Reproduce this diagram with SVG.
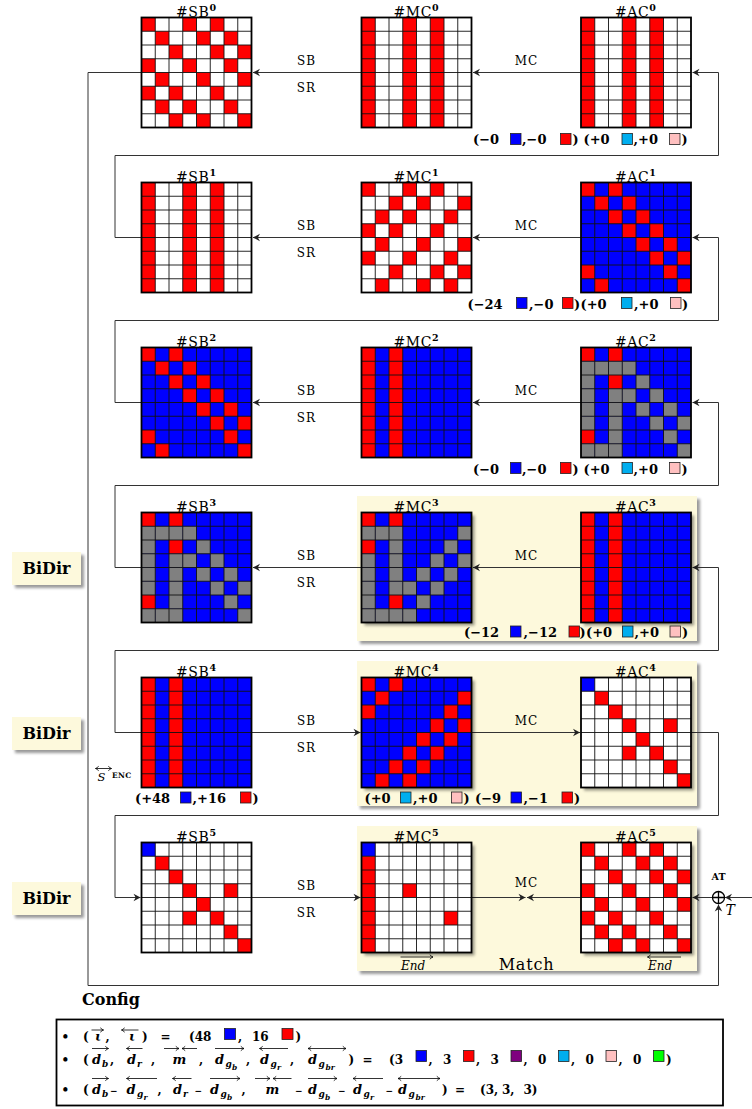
<svg xmlns="http://www.w3.org/2000/svg" width="752" height="1109" viewBox="0 0 752 1109">
<style>
.f{font-family:"DejaVu Serif","Liberation Serif",serif;fill:#000}
.ttl{font-size:14px;letter-spacing:.6px}
.sup{font-size:9.5px;font-weight:bold;letter-spacing:0}
.op{font-size:12px;letter-spacing:1px}
.lb{font-size:13px;font-weight:bold}
.lg{font-size:12px;font-weight:bold}
.mi{font-style:italic;font-weight:bold;font-size:13px}
.s1{font-size:9px;font-style:italic;font-weight:bold}
.s2{font-size:7.5px;font-style:italic;font-weight:bold}
.mn{font-size:9px;font-weight:bold}
.cn{fill:none;stroke:#333;stroke-width:1}
.sq{stroke:#222;stroke-width:.8}
.grid{fill:none;stroke:#111;stroke-width:.9}
.bd{fill:none;stroke:#000;stroke-width:1.8}
.hl{fill:#fdf9dc}
.shd{fill:#000;opacity:.4;filter:url(#sh)}
.acc{fill:none;stroke:#000;stroke-width:.8}
.R{fill:#ff0000}.B{fill:#0000ff}.C{fill:#00aeef}.P{fill:#ffc0c0}.U{fill:#7f007f}.N{fill:#00ff00}
</style>
<defs>
<filter id="sh" x="-20%" y="-20%" width="140%" height="140%"><feGaussianBlur stdDeviation="1.8"/></filter>
<marker id="ah" viewBox="-8 -5 10 10" refX="0" refY="0" markerWidth="10" markerHeight="10" markerUnits="userSpaceOnUse" orient="auto" overflow="visible"><path d="M0,0 L-7,-3.8 L-4.8,0 L-7,3.8 Z" fill="#222"/></marker>
<marker id="sa" viewBox="-4 -3 5 6" refX="0" refY="0" markerWidth="5" markerHeight="6" markerUnits="userSpaceOnUse" orient="auto-start-reverse" overflow="visible"><path d="M-3.2,-2.2 Q-1.2,-0.4 0,0 Q-1.2,0.4 -3.2,2.2" fill="none" stroke="#000" stroke-width=".8"/></marker>
<rect id="c" width="13.75" height="13.75"/>
<g id="L"><path class="grid" d="M13.75 0V110M27.5 0V110M41.25 0V110M55 0V110M68.75 0V110M82.5 0V110M96.25 0V110M0 13.75H110M0 27.5H110M0 41.25H110M0 55H110M0 68.75H110M0 82.5H110M0 96.25H110"/><rect class="bd" width="110" height="110"/></g>
<g id="pA"><rect width="110" height="110" fill="#fff"/><g fill="#f00">
<use href="#c" x="0" y="0"/><use href="#c" x="41.25" y="0"/><use href="#c" x="68.75" y="0"/>
<use href="#c" x="13.75" y="13.75"/><use href="#c" x="55" y="13.75"/><use href="#c" x="82.5" y="13.75"/>
<use href="#c" x="27.5" y="27.5"/><use href="#c" x="68.75" y="27.5"/><use href="#c" x="96.25" y="27.5"/>
<use href="#c" x="0" y="41.25"/><use href="#c" x="41.25" y="41.25"/><use href="#c" x="82.5" y="41.25"/>
<use href="#c" x="13.75" y="55"/><use href="#c" x="55" y="55"/><use href="#c" x="96.25" y="55"/>
<use href="#c" x="0" y="68.75"/><use href="#c" x="27.5" y="68.75"/><use href="#c" x="68.75" y="68.75"/>
<use href="#c" x="13.75" y="82.5"/><use href="#c" x="41.25" y="82.5"/><use href="#c" x="82.5" y="82.5"/>
<use href="#c" x="27.5" y="96.25"/><use href="#c" x="55" y="96.25"/><use href="#c" x="96.25" y="96.25"/>
</g><use href="#L"/></g>
<g id="pB"><rect width="110" height="110" fill="#fff"/><g fill="#f00"><rect x="0" width="13.75" height="110"/><rect x="41.25" width="13.75" height="110"/><rect x="68.75" width="13.75" height="110"/></g><use href="#L"/></g>
<g id="pC"><rect width="110" height="110" fill="#fff"/><g fill="#f00">
<use href="#c" x="0" y="0"/><use href="#c" x="41.25" y="0"/><use href="#c" x="68.75" y="0"/>
<use href="#c" x="27.5" y="13.75"/><use href="#c" x="55" y="13.75"/><use href="#c" x="96.25" y="13.75"/>
<use href="#c" x="13.75" y="27.5"/><use href="#c" x="41.25" y="27.5"/><use href="#c" x="82.5" y="27.5"/>
<use href="#c" x="0" y="41.25"/><use href="#c" x="27.5" y="41.25"/><use href="#c" x="68.75" y="41.25"/>
<use href="#c" x="13.75" y="55"/><use href="#c" x="55" y="55"/><use href="#c" x="96.25" y="55"/>
<use href="#c" x="0" y="68.75"/><use href="#c" x="41.25" y="68.75"/><use href="#c" x="82.5" y="68.75"/>
<use href="#c" x="27.5" y="82.5"/><use href="#c" x="68.75" y="82.5"/><use href="#c" x="96.25" y="82.5"/>
<use href="#c" x="13.75" y="96.25"/><use href="#c" x="55" y="96.25"/><use href="#c" x="82.5" y="96.25"/>
</g><use href="#L"/></g>
<g id="pD"><rect width="110" height="110" fill="#00f"/><g fill="#f00">
<use href="#c" x="0" y="0"/><use href="#c" x="27.5" y="0"/>
<use href="#c" x="13.75" y="13.75"/><use href="#c" x="41.25" y="13.75"/>
<use href="#c" x="27.5" y="27.5"/><use href="#c" x="55" y="27.5"/>
<use href="#c" x="41.25" y="41.25"/><use href="#c" x="68.75" y="41.25"/>
<use href="#c" x="55" y="55"/><use href="#c" x="82.5" y="55"/>
<use href="#c" x="68.75" y="68.75"/><use href="#c" x="96.25" y="68.75"/>
<use href="#c" x="0" y="82.5"/><use href="#c" x="82.5" y="82.5"/>
<use href="#c" x="13.75" y="96.25"/><use href="#c" x="96.25" y="96.25"/>
</g><use href="#L"/></g>
<g id="pE"><rect width="110" height="110" fill="#00f"/><g fill="#f00"><rect x="0" width="13.75" height="110"/><rect x="27.5" width="13.75" height="110"/></g><use href="#L"/></g>
<g id="pF"><rect width="110" height="110" fill="#00f"/>
<g fill="#f00"><use href="#c" x="0" y="0"/><use href="#c" x="27.5" y="0"/><use href="#c" x="27.5" y="27.5"/><use href="#c" x="0" y="82.5"/></g>
<g fill="#808080">
<use href="#c" x="0" y="13.75"/><use href="#c" x="13.75" y="13.75"/><use href="#c" x="27.5" y="13.75"/><use href="#c" x="41.25" y="13.75"/>
<use href="#c" x="0" y="27.5"/><use href="#c" x="55" y="27.5"/>
<use href="#c" x="0" y="41.25"/><use href="#c" x="27.5" y="41.25"/><use href="#c" x="41.25" y="41.25"/><use href="#c" x="68.75" y="41.25"/>
<use href="#c" x="0" y="55"/><use href="#c" x="27.5" y="55"/><use href="#c" x="55" y="55"/><use href="#c" x="82.5" y="55"/>
<use href="#c" x="0" y="68.75"/><use href="#c" x="27.5" y="68.75"/><use href="#c" x="68.75" y="68.75"/><use href="#c" x="96.25" y="68.75"/>
<use href="#c" x="27.5" y="82.5"/><use href="#c" x="82.5" y="82.5"/>
<use href="#c" x="0" y="96.25"/><use href="#c" x="13.75" y="96.25"/><use href="#c" x="27.5" y="96.25"/><use href="#c" x="96.25" y="96.25"/>
</g><use href="#L"/></g>
<g id="pG"><rect width="110" height="110" fill="#00f"/>
<g fill="#f00"><use href="#c" x="0" y="0"/><use href="#c" x="27.5" y="0"/><use href="#c" x="0" y="27.5"/><use href="#c" x="27.5" y="82.5"/></g>
<g fill="#808080">
<use href="#c" x="0" y="13.75"/><use href="#c" x="13.75" y="13.75"/><use href="#c" x="27.5" y="13.75"/><use href="#c" x="96.25" y="13.75"/>
<use href="#c" x="27.5" y="27.5"/><use href="#c" x="82.5" y="27.5"/>
<use href="#c" x="0" y="41.25"/><use href="#c" x="27.5" y="41.25"/><use href="#c" x="68.75" y="41.25"/><use href="#c" x="96.25" y="41.25"/>
<use href="#c" x="0" y="55"/><use href="#c" x="27.5" y="55"/><use href="#c" x="55" y="55"/><use href="#c" x="82.5" y="55"/>
<use href="#c" x="0" y="68.75"/><use href="#c" x="27.5" y="68.75"/><use href="#c" x="41.25" y="68.75"/><use href="#c" x="68.75" y="68.75"/>
<use href="#c" x="0" y="82.5"/><use href="#c" x="55" y="82.5"/>
<use href="#c" x="0" y="96.25"/><use href="#c" x="13.75" y="96.25"/><use href="#c" x="27.5" y="96.25"/><use href="#c" x="41.25" y="96.25"/>
</g><use href="#L"/></g>
<g id="pH"><rect width="110" height="110" fill="#00f"/><g fill="#f00">
<use href="#c" x="0" y="0"/><use href="#c" x="27.5" y="0"/>
<use href="#c" x="13.75" y="13.75"/><use href="#c" x="96.25" y="13.75"/>
<use href="#c" x="0" y="27.5"/><use href="#c" x="82.5" y="27.5"/>
<use href="#c" x="68.75" y="41.25"/><use href="#c" x="96.25" y="41.25"/>
<use href="#c" x="55" y="55"/><use href="#c" x="82.5" y="55"/>
<use href="#c" x="41.25" y="68.75"/><use href="#c" x="68.75" y="68.75"/>
<use href="#c" x="27.5" y="82.5"/><use href="#c" x="55" y="82.5"/>
<use href="#c" x="13.75" y="96.25"/><use href="#c" x="41.25" y="96.25"/>
</g><use href="#L"/></g>
<g id="pI"><rect width="110" height="110" fill="#fff"/><use href="#c" x="0" y="0" fill="#00f"/><g fill="#f00">
<use href="#c" x="13.75" y="13.75"/><use href="#c" x="27.5" y="27.5"/><use href="#c" x="41.25" y="41.25"/><use href="#c" x="82.5" y="41.25"/>
<use href="#c" x="55" y="55"/><use href="#c" x="41.25" y="68.75"/><use href="#c" x="68.75" y="68.75"/><use href="#c" x="82.5" y="82.5"/><use href="#c" x="96.25" y="96.25"/>
</g><use href="#L"/></g>
<g id="pJ"><rect width="110" height="110" fill="#fff"/><use href="#c" x="0" y="0" fill="#00f"/><g fill="#f00">
<rect x="0" y="13.75" width="13.75" height="96.25"/><use href="#c" x="41.25" y="41.25"/><use href="#c" x="82.5" y="68.75"/>
</g><use href="#L"/></g>
</defs>

<rect width="752" height="1109" fill="#fff"/>

<!-- highlight regions -->
<g id="highlights">
<rect class="shd" x="360" y="499" width="340" height="145"/>
<rect class="hl" x="357" y="496" width="340" height="145"/>
<rect class="shd" x="360" y="664" width="340" height="145"/>
<rect class="hl" x="357" y="661" width="340" height="145"/>
<rect class="shd" x="360" y="829" width="340" height="145"/>
<rect class="hl" x="357" y="826" width="340" height="145"/>
</g>

<!-- connectors -->
<g id="connectors">
<path class="cn" d="M361.5 72.5H253" marker-end="url(#ah)"/>
<path class="cn" d="M581 72.5H473" marker-end="url(#ah)"/>
<path class="cn" d="M141.5 237.5H115V155.5H718.5V72.5H692.5" marker-end="url(#ah)"/>
<path class="cn" d="M361.5 237.5H253" marker-end="url(#ah)"/>
<path class="cn" d="M581 237.5H473" marker-end="url(#ah)"/>
<path class="cn" d="M141.5 402.5H115V320.5H718.5V237.5H692.5" marker-end="url(#ah)"/>
<path class="cn" d="M361.5 402.5H253" marker-end="url(#ah)"/>
<path class="cn" d="M581 402.5H473" marker-end="url(#ah)"/>
<path class="cn" d="M141.5 567.5H115V485.5H718.5V402.5H692.5" marker-end="url(#ah)"/>
<path class="cn" d="M361.5 567.5H253" marker-end="url(#ah)"/>
<path class="cn" d="M581 567.5H473" marker-end="url(#ah)"/>
<path class="cn" d="M141.5 732.5H115V650.5H718.5V567.5H692.5" marker-end="url(#ah)"/>
<path class="cn" d="M251.5 732.5H360.5" marker-end="url(#ah)"/>
<path class="cn" d="M471.5 732.5H580" marker-end="url(#ah)"/>
<path class="cn" d="M691 732.5H718.5V815.5H115V897.5H140.5" marker-end="url(#ah)"/>
<path class="cn" d="M251.5 897.5H360.5" marker-end="url(#ah)"/>
<path class="cn" d="M471.5 897.5H525.5" marker-end="url(#ah)"/>
<path class="cn" d="M581 897.5H527" marker-end="url(#ah)"/>
<path class="cn" d="M712.5 897.5H692.5" marker-end="url(#ah)"/>
<path class="cn" d="M752 897.5H725" marker-end="url(#ah)"/>
<path class="cn" d="M141.5 72.5H88V985.5H718.5V904.5" marker-end="url(#ah)"/>
</g>

<!-- XOR node -->
<g id="XOR">
<circle cx="718.5" cy="897.5" r="6" fill="#fff" stroke="#000" stroke-width="1.3"/>
<path d="M712.5 897.5H724.5M718.5 891.5V903.5" stroke="#000" stroke-width="1.3"/>
<text class="f" x="718.5" y="879.5" font-size="9.5" font-weight="bold" text-anchor="middle">AT</text>
<text class="f" x="725.5" y="915" font-size="14" font-style="italic">T</text>
</g>

<!-- operation labels -->
<g id="oplabels" class="f op" text-anchor="middle">
<text x="306.5" y="64.5">SB</text><text x="306.5" y="91.5">SR</text><text x="526.5" y="64.5">MC</text>
<text x="306.5" y="229.5">SB</text><text x="306.5" y="256.5">SR</text><text x="526.5" y="229.5">MC</text>
<text x="306.5" y="394.5">SB</text><text x="306.5" y="421.5">SR</text><text x="526.5" y="394.5">MC</text>
<text x="306.5" y="559.5">SB</text><text x="306.5" y="586.5">SR</text><text x="526.5" y="559.5">MC</text>
<text x="306.5" y="724.5">SB</text><text x="306.5" y="751.5">SR</text><text x="526.5" y="724.5">MC</text>
<text x="306.5" y="889.5">SB</text><text x="306.5" y="916.5">SR</text><text x="526.5" y="886.5">MC</text>
</g>

<!-- state nodes -->
<g id="SB0"><use href="#pA" x="141.5" y="17.5"/><text class="f ttl" x="196" y="16.5" text-anchor="middle">#SB<tspan class="sup" dy="-6">0</tspan></text></g>
<g id="MC0"><use href="#pB" x="361.5" y="17.5"/><text class="f ttl" x="416" y="16.5" text-anchor="middle">#MC<tspan class="sup" dy="-6">0</tspan></text></g>
<g id="AC0"><use href="#pB" x="581" y="17.5"/><text class="f ttl" x="635.5" y="16.5" text-anchor="middle">#AC<tspan class="sup" dy="-6">0</tspan></text></g>

<g id="SB1"><use href="#pB" x="141.5" y="182.5"/><text class="f ttl" x="196" y="181.5" text-anchor="middle">#SB<tspan class="sup" dy="-6">1</tspan></text></g>
<g id="MC1"><use href="#pC" x="361.5" y="182.5"/><text class="f ttl" x="416" y="181.5" text-anchor="middle">#MC<tspan class="sup" dy="-6">1</tspan></text></g>
<g id="AC1"><use href="#pD" x="581" y="182.5"/><text class="f ttl" x="635.5" y="181.5" text-anchor="middle">#AC<tspan class="sup" dy="-6">1</tspan></text></g>

<g id="SB2"><use href="#pD" x="141.5" y="347.5"/><text class="f ttl" x="196" y="346.5" text-anchor="middle">#SB<tspan class="sup" dy="-6">2</tspan></text></g>
<g id="MC2"><use href="#pE" x="361.5" y="347.5"/><text class="f ttl" x="416" y="346.5" text-anchor="middle">#MC<tspan class="sup" dy="-6">2</tspan></text></g>
<g id="AC2"><use href="#pF" x="581" y="347.5"/><text class="f ttl" x="635.5" y="346.5" text-anchor="middle">#AC<tspan class="sup" dy="-6">2</tspan></text></g>

<g id="SB3"><use href="#pF" x="141.5" y="512.5"/><text class="f ttl" x="196" y="511.5" text-anchor="middle">#SB<tspan class="sup" dy="-6">3</tspan></text></g>
<g id="MC3"><rect class="shd" x="364.5" y="515.5" width="110" height="110"/><use href="#pG" x="361.5" y="512.5"/><text class="f ttl" x="416" y="511.5" text-anchor="middle">#MC<tspan class="sup" dy="-6">3</tspan></text></g>
<g id="AC3"><rect class="shd" x="584" y="515.5" width="110" height="110"/><use href="#pE" x="581" y="512.5"/><text class="f ttl" x="635.5" y="511.5" text-anchor="middle">#AC<tspan class="sup" dy="-6">3</tspan></text></g>

<g id="SB4"><use href="#pE" x="141.5" y="677.5"/><text class="f ttl" x="196" y="676.5" text-anchor="middle">#SB<tspan class="sup" dy="-6">4</tspan></text></g>
<g id="MC4"><rect class="shd" x="364.5" y="680.5" width="110" height="110"/><use href="#pH" x="361.5" y="677.5"/><text class="f ttl" x="416" y="676.5" text-anchor="middle">#MC<tspan class="sup" dy="-6">4</tspan></text></g>
<g id="AC4"><rect class="shd" x="584" y="680.5" width="110" height="110"/><use href="#pI" x="581" y="677.5"/><text class="f ttl" x="635.5" y="676.5" text-anchor="middle">#AC<tspan class="sup" dy="-6">4</tspan></text></g>

<g id="SB5"><use href="#pI" x="141.5" y="842.5"/><text class="f ttl" x="196" y="841.5" text-anchor="middle">#SB<tspan class="sup" dy="-6">5</tspan></text></g>
<g id="MC5"><rect class="shd" x="364.5" y="845.5" width="110" height="110"/><use href="#pJ" x="361.5" y="842.5"/><text class="f ttl" x="416" y="841.5" text-anchor="middle">#MC<tspan class="sup" dy="-6">5</tspan></text></g>
<g id="AC5"><rect class="shd" x="584" y="845.5" width="110" height="110"/><use href="#pA" x="581" y="842.5"/><text class="f ttl" x="635.5" y="841.5" text-anchor="middle">#AC<tspan class="sup" dy="-6">5</tspan></text></g>

<!-- count labels -->
<g id="counts" class="f lb">
<text x="473" y="144">(−0</text><rect class="sq B" x="510.5" y="133.5" width="10.5" height="11"/><text x="522" y="144">,−0</text><rect class="sq R" x="560.5" y="133.5" width="10.5" height="11"/><text x="572.5" y="144">)</text>
<text x="583.5" y="144">(+0</text><rect class="sq C" x="622" y="133.5" width="10.5" height="11"/><text x="633.5" y="144">,+0</text><rect class="sq P" x="669.5" y="133.5" width="10.5" height="11"/><text x="681.5" y="144">)</text>

<text x="467.5" y="308.5">(−24</text><rect class="sq B" x="516.5" y="297.5" width="10.5" height="11"/><text x="529" y="308.5">,−0</text><rect class="sq R" x="562.5" y="297.5" width="10.5" height="11"/><text x="574" y="308.5">)</text>
<text x="580.5" y="308.5">(+0</text><rect class="sq C" x="621.5" y="297.5" width="10.5" height="11"/><text x="634" y="308.5">,+0</text><rect class="sq P" x="670.5" y="297.5" width="10.5" height="11"/><text x="682" y="308.5">)</text>

<text x="473" y="473.5">(−0</text><rect class="sq B" x="510.5" y="462.5" width="10.5" height="11"/><text x="522" y="473.5">,−0</text><rect class="sq R" x="560.5" y="462.5" width="10.5" height="11"/><text x="572.5" y="473.5">)</text>
<text x="583.5" y="473.5">(+0</text><rect class="sq C" x="622" y="462.5" width="10.5" height="11"/><text x="633.5" y="473.5">,+0</text><rect class="sq P" x="669.5" y="462.5" width="10.5" height="11"/><text x="681.5" y="473.5">)</text>

<text x="464" y="637">(−12</text><rect class="sq B" x="510.5" y="626" width="10.5" height="11"/><text x="523.5" y="637">,−12</text><rect class="sq R" x="569" y="626" width="10.5" height="11"/><text x="579.5" y="637">)</text>
<text x="586" y="637">(+0</text><rect class="sq C" x="622.5" y="626" width="10.5" height="11"/><text x="634.5" y="637">,+0</text><rect class="sq P" x="670" y="626" width="10.5" height="11"/><text x="682" y="637">)</text>

<text x="135" y="803">(+48</text><rect class="sq B" x="180.5" y="792" width="10.5" height="11"/><text x="192.5" y="803">,+16</text><rect class="sq R" x="240.5" y="792" width="10.5" height="11"/><text x="252.5" y="803">)</text>

<text x="364.5" y="803">(+0</text><rect class="sq C" x="400.5" y="792" width="10.5" height="11"/><text x="413" y="803">,+0</text><rect class="sq P" x="451.5" y="792" width="10.5" height="11"/><text x="463.5" y="803">)</text>
<text x="475" y="803">(−9</text><rect class="sq B" x="511" y="792" width="10.5" height="11"/><text x="523.5" y="803">,−1</text><rect class="sq R" x="562" y="792" width="10.5" height="11"/><text x="574" y="803">)</text>
</g>

<!-- start state label -->
<g id="Senc">
<text class="f" x="97.5" y="780.5" font-size="11.5" font-style="italic">S</text>
<path class="acc" d="M95.5 768.5H111.5" marker-start="url(#sa)" marker-end="url(#sa)"/>
<text class="f" x="112" y="777.5" font-size="7.5" font-weight="bold" letter-spacing=".4">ENC</text>
</g>

<!-- match labels -->
<g id="matchlabels">
<text class="f" x="401" y="969.5" font-size="12" font-style="italic">End</text>
<path class="acc" d="M400.5 957H433" marker-end="url(#sa)"/>
<text class="f" x="648" y="969.5" font-size="12" font-style="italic">End</text>
<path class="acc" d="M681 957H647.5" marker-end="url(#sa)"/>
<text class="f" x="526.5" y="970" font-size="16" letter-spacing=".8" text-anchor="middle">Match</text>
</g>

<!-- BiDir tags -->
<g id="BiDir3"><rect class="shd" x="15" y="555" width="69" height="33"/><rect class="hl" x="12" y="552" width="69" height="33"/><text class="f" x="46.5" y="573.5" font-size="16" font-weight="bold" text-anchor="middle">BiDir</text></g>
<g id="BiDir4"><rect class="shd" x="15" y="720" width="69" height="33"/><rect class="hl" x="12" y="717" width="69" height="33"/><text class="f" x="46.5" y="738.5" font-size="16" font-weight="bold" text-anchor="middle">BiDir</text></g>
<g id="BiDir5"><rect class="shd" x="15" y="885" width="69" height="33"/><rect class="hl" x="12" y="882" width="69" height="33"/><text class="f" x="46.5" y="903.5" font-size="16" font-weight="bold" text-anchor="middle">BiDir</text></g>

<text id="Config" class="f" x="82" y="1004.5" font-size="16" font-weight="bold">Config</text>

<!-- legend -->
<g id="legend">
<rect x="56.5" y="1019.5" width="666.5" height="86" fill="#fff" stroke="#000" stroke-width="1.8"/>
<g class="f lg">
<text x="61.5" y="1040.5">•</text>
<text x="83" y="1040.5">(</text>
<text class="mi" x="95" y="1040.5">ι</text>
<text x="105.5" y="1040.5">,</text>
<text class="mi" x="129" y="1040.5">ι</text>
<text x="142" y="1040.5">)</text>
<text x="160.5" y="1040.5">=</text>
<text x="189" y="1040.5">(48</text>
<text x="238" y="1040.5">,</text>
<text x="252" y="1040.5">16</text>
<text x="295.5" y="1040.5">)</text>

<text x="61.5" y="1064">•</text>
<text x="83" y="1063.5">(</text>
<text class="mi" x="92" y="1063.5">d</text><text class="s1" x="102" y="1067">b</text>
<text x="110" y="1063.5">,</text>
<text class="mi" x="127" y="1063.5">d</text><text class="s1" x="137" y="1067">r</text>
<text x="151" y="1063.5">,</text>
<text class="mi" x="172.5" y="1063.5">m</text>
<text x="199" y="1063.5">,</text>
<text class="mi" x="215" y="1063.5">d</text><text class="s1" x="225.5" y="1067">g</text><text class="s2" x="232" y="1069.5">b</text>
<text x="246" y="1063.5">,</text>
<text class="mi" x="260" y="1063.5">d</text><text class="s1" x="270.5" y="1067">g</text><text class="s2" x="277" y="1069.5">r</text>
<text x="290" y="1063.5">,</text>
<text class="mi" x="308" y="1063.5">d</text><text class="s1" x="318.5" y="1067">g</text><text class="s2" x="325.5" y="1069.5">br</text>
<text x="348.5" y="1063.5">)</text>
<text x="362.5" y="1063.5">=</text>
<text x="389" y="1063.5">(3</text>
<text x="428.5" y="1063.5">,</text>
<text x="443" y="1063.5">3</text>
<text x="476" y="1063.5">,</text>
<text x="490.5" y="1063.5">3</text>
<text x="523.5" y="1063.5">,</text>
<text x="538" y="1063.5">0</text>
<text x="571" y="1063.5">,</text>
<text x="585.5" y="1063.5">0</text>
<text x="618.5" y="1063.5">,</text>
<text x="633" y="1063.5">0</text>
<text x="666" y="1063.5">)</text>

<text x="61.5" y="1094">•</text>
<text x="83" y="1093.5">(</text>
<text class="mi" x="92" y="1093.5">d</text><text class="s1" x="102" y="1097">b</text>
<text class="mn" x="110" y="1093.5">−</text>
<text class="mi" x="126.5" y="1093.5">d</text><text class="s1" x="137" y="1097">g</text><text class="s2" x="143.5" y="1099.5">r</text>
<text x="157.5" y="1093.5">,</text>
<text class="mi" x="173" y="1093.5">d</text><text class="s1" x="183" y="1097">r</text>
<text class="mn" x="194.5" y="1093.5">−</text>
<text class="mi" x="210" y="1093.5">d</text><text class="s1" x="220.5" y="1097">g</text><text class="s2" x="227" y="1099.5">b</text>
<text x="241.5" y="1093.5">,</text>
<text class="mi" x="265.5" y="1093.5">m</text>
<text class="mn" x="295" y="1093.5">−</text>
<text class="mi" x="308" y="1093.5">d</text><text class="s1" x="318.5" y="1097">g</text><text class="s2" x="325" y="1099.5">b</text>
<text class="mn" x="338" y="1093.5">−</text>
<text class="mi" x="353" y="1093.5">d</text><text class="s1" x="363.5" y="1097">g</text><text class="s2" x="370" y="1099.5">r</text>
<text class="mn" x="385.5" y="1093.5">−</text>
<text class="mi" x="398" y="1093.5">d</text><text class="s1" x="408.5" y="1097">g</text><text class="s2" x="415.5" y="1099.5">br</text>
<text x="442" y="1093.5">)</text>
<text x="455" y="1093.5">=</text>
<text x="480" y="1093.5">(3,</text>
<text x="502" y="1093.5">3,</text>
<text x="523.5" y="1093.5">3)</text>
</g>
<rect class="sq B" x="224.5" y="1028.5" width="11" height="11"/>
<rect class="sq R" x="282" y="1028.5" width="11" height="11"/>
<rect class="sq B" x="416" y="1050.5" width="10.5" height="11"/>
<rect class="sq R" x="463.5" y="1050.5" width="10.5" height="11"/>
<rect class="sq U" x="511" y="1050.5" width="10.5" height="11"/>
<rect class="sq C" x="558.5" y="1050.5" width="10.5" height="11"/>
<rect class="sq P" x="606" y="1050.5" width="10.5" height="11"/>
<rect class="sq N" x="653.5" y="1050.5" width="10.5" height="11"/>
<g class="acc">
<path d="M91.5 1030H103.5" marker-end="url(#sa)"/>
<path d="M138.5 1030H121.5" marker-end="url(#sa)"/>
<path d="M92 1048.5H108.5" marker-end="url(#sa)"/>
<path d="M142.5 1048.5H126.5" marker-end="url(#sa)"/>
<path d="M164 1048.5H179" marker-end="url(#sa)"/>
<path d="M197 1048.5H182" marker-end="url(#sa)"/>
<path d="M215 1048.5H244" marker-end="url(#sa)"/>
<path d="M288 1048.5H259.5" marker-end="url(#sa)"/>
<path d="M308 1048.5H346" marker-start="url(#sa)" marker-end="url(#sa)"/>
<path d="M92 1078.5H108.5" marker-end="url(#sa)"/>
<path d="M157 1078.5H126.5" marker-end="url(#sa)"/>
<path d="M191.5 1078.5H172.5" marker-end="url(#sa)"/>
<path d="M210 1078.5H240" marker-end="url(#sa)"/>
<path d="M255 1078.5H270" marker-end="url(#sa)"/>
<path d="M291.5 1078.5H273" marker-end="url(#sa)"/>
<path d="M308 1078.5H337" marker-end="url(#sa)"/>
<path d="M383 1078.5H353" marker-end="url(#sa)"/>
<path d="M398 1078.5H440" marker-start="url(#sa)" marker-end="url(#sa)"/>
</g>
</g>
</svg>
